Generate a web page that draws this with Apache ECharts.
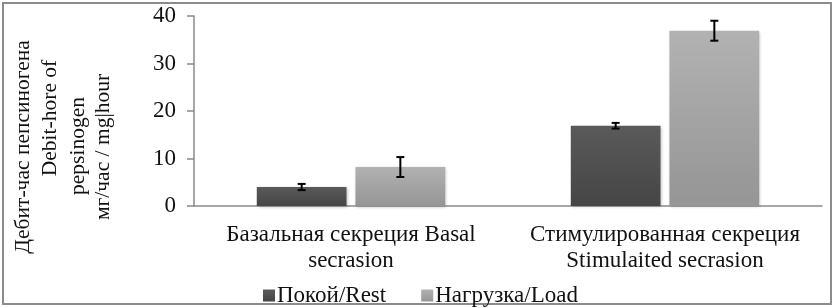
<!DOCTYPE html>
<html><head><meta charset="utf-8">
<script src="https://cdn.jsdelivr.net/npm/echarts@6/dist/echarts.min.js"></script>
<style>html,body{margin:0;padding:0;background:#fff}#c{width:836px;height:308px}</style>
</head><body><div id="c"></div>
<script>
const categories = ['Базальная секреция Basal\nsecrasion', 'Стимулированная секреция\nStimulaited secrasion'];
const seriesNames = ['Покой/Rest', 'Нагрузка/Load'];
const restValues = [4.0, 16.9];
const restErrors = [0.65, 0.6];
const loadValues = [8.2, 36.9];
const loadErrors = [2.1, 2.1];
const yTicks = [0, 10, 20, 30, 40];
const yNameLines = ['Дебит-час пепсиногена', 'Debit-hore of', 'pepsinogen', 'мг/час / mg|hour'];

const FONT = '"Liberation Serif","Times New Roman",serif';
const FS = 23;
const chart = echarts.init(document.getElementById('c'));

function errSeries(vals, errs, side) {
  return {
    type: 'custom',
    silent: true,
    z: 10,
    data: vals.map((v, i) => [i, v - errs[i], v + errs[i]]),
    renderItem: function (params, api) {
      const i = api.value(0);
      const lo = api.coord([i, api.value(1)]);
      const hi = api.coord([i, api.value(2)]);
      const bw = api.size([1, 0])[0];
      const barW = bw * 0.6 / 2.1;
      const off = side * (barW * 1.1) / 2;
      const x = lo[0] + off;
      const cap = 4;
      const st = { stroke: '#000', lineWidth: 2 };
      return {
        type: 'group',
        children: [
          { type: 'line', shape: { x1: x, y1: lo[1], x2: x, y2: hi[1] }, style: st },
          { type: 'line', shape: { x1: x - cap, y1: lo[1], x2: x + cap, y2: lo[1] }, style: st },
          { type: 'line', shape: { x1: x - cap, y1: hi[1], x2: x + cap, y2: hi[1] }, style: st }
        ]
      };
    }
  };
}

const darkGrad = new echarts.graphic.LinearGradient(0, 0, 0, 1, [{ offset: 0, color: '#5a5a5a' }, { offset: 1, color: '#454545' }]);
const lightGrad = new echarts.graphic.LinearGradient(0, 0, 0, 1, [{ offset: 0, color: '#b2b2b2' }, { offset: 1, color: '#959595' }]);

const nameX = [23, 50, 78, 103];
const nameY = [147, 118, 146, 147];

chart.setOption({
  animation: false,
  grid: { left: 194, right: 14, top: 16, bottom: 102 },
  legend: {
    left: 258, top: 279,
    icon: 'rect', itemWidth: 12, itemHeight: 12, itemGap: 35,
    data: seriesNames,
    textStyle: { fontFamily: FONT, fontSize: FS, color: '#111', padding: [0, 0, 0, -3] }
  },
  xAxis: {
    type: 'category', data: categories,
    axisLine: { lineStyle: { color: '#8a8a8a', width: 1.5 } },
    axisTick: { show: false },
    axisLabel: { fontFamily: FONT, fontSize: FS, color: '#111', lineHeight: 26, margin: 16, interval: 0 }
  },
  yAxis: {
    type: 'value', min: 0, max: 40, interval: 10,
    axisLine: { show: true, lineStyle: { color: '#8a8a8a', width: 1.5 } },
    axisTick: { show: true, length: 7, lineStyle: { color: '#8a8a8a', width: 1.5 } },
    splitLine: { show: false },
    axisLabel: { fontFamily: FONT, fontSize: FS, color: '#111', margin: 18,
      formatter: v => yTicks.indexOf(v) >= 0 ? String(v) : '' }
  },
  series: [
    { name: seriesNames[0], type: 'bar', data: restValues, barCategoryGap: '40%', barGap: '10%',
      itemStyle: { color: darkGrad, shadowBlur: 3, shadowColor: 'rgba(0,0,0,0.25)', shadowOffsetX: 1, shadowOffsetY: 1 } },
    { name: seriesNames[1], type: 'bar', data: loadValues, barCategoryGap: '40%', barGap: '10%',
      itemStyle: { color: lightGrad, shadowBlur: 3, shadowColor: 'rgba(0,0,0,0.25)', shadowOffsetX: 1, shadowOffsetY: 1 } },
    errSeries(restValues, restErrors, -1),
    errSeries(loadValues, loadErrors, 1)
  ],
  graphic: [
    { type: 'rect', shape: { x: 3, y: 3, width: 828, height: 301 }, style: { fill: 'none', stroke: '#8c8c8c', lineWidth: 2 }, silent: true }
  ].concat(yNameLines.map((t, i) => ({
    type: 'text', x: nameX[i], y: nameY[i], rotation: Math.PI / 2,
    style: { text: t, fontFamily: FONT, fontSize: 21.5, fill: '#111', align: 'center', verticalAlign: 'middle' }
  })))
});
</script></body></html>
